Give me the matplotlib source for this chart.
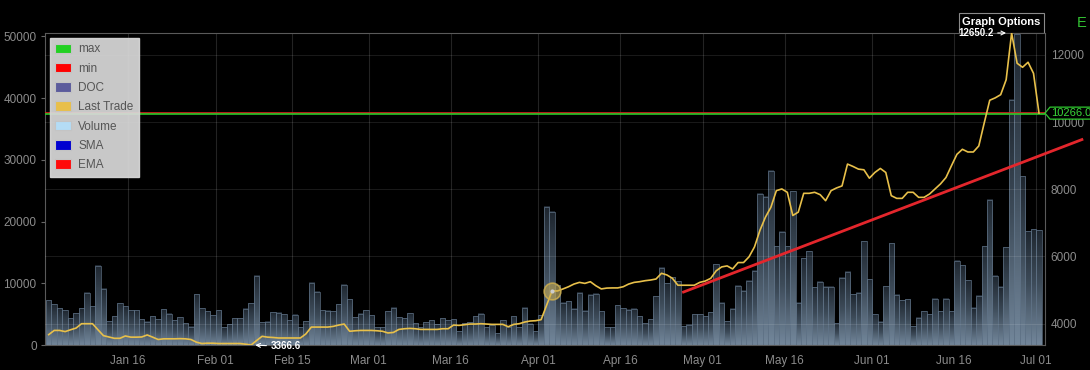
import numpy as np
import pandas as pd
import matplotlib
matplotlib.use("Agg")
import matplotlib.pyplot as plt
import matplotlib.dates as mdates
import matplotlib.transforms as mtransforms
from matplotlib.colors import LinearSegmentedColormap
from matplotlib.patches import Patch, Rectangle, Polygon

# daily data, first day below
start = "2017-01-01"

volume = [
    7260, 6610, 5920, 5650, 4300, 5110, 5920, 8500, 6290, 12860,
    9140, 3870, 4680, 6770, 6290, 5650, 5600, 4140, 3760, 4680,
    4140, 5810, 5060, 4030, 4520, 3500, 2960, 8230, 5920, 5490,
    4840, 5590, 2900, 3390, 4300, 4300, 5860, 6770, 11240, 3660,
    3760, 5270, 5220, 4950, 3980, 4900, 2900, 3820, 10110, 8660,
    5650, 5540, 5490, 6560, 9730, 7370, 4520, 5050, 5590, 4840,
    2900, 2900, 5490, 6020, 4520, 4360, 5160, 3490, 2900, 3660,
    4030, 3390, 4300, 3980, 4140, 2260, 3490, 3660, 4680, 5050,
    2900, 3170, 1940, 3980, 2900, 4630, 2900, 6020, 3440, 2260,
    4840, 22420, 21610, 9680, 6830, 7100, 5910, 8490, 5540, 8170,
    8330, 5430, 2900, 2900, 6400, 5970, 5700, 5910, 4680, 3490,
    4140, 7900, 12530, 10000, 10970, 10320, 3060, 3280, 4950, 4950,
    4680, 5320, 13070, 6880, 3870, 5860, 9620, 8820, 10430, 12040,
    24460, 23980, 28230, 16020, 18330, 16000, 24890, 6830, 14030, 15160,
    9350, 10210, 9460, 9460, 3490, 10920, 11880, 8230, 8440, 16770,
    10650, 4950, 3760, 9520, 16450, 8170, 7260, 7420, 3060, 4410,
    5480, 4950, 7530, 5480, 7530, 5480, 13660, 12900, 10480, 6020,
    8010, 15970, 23500, 11180, 9410, 15810, 39680, 50300, 27310, 18390,
    18710, 18550,
]

last_trade = [
    3675, 3800, 3800, 3765, 3820, 3870, 4000, 4000, 4000, 3820,
    3645, 3605, 3565, 3565, 3635, 3600, 3600, 3605, 3665, 3600,
    3530, 3550, 3550, 3550, 3555, 3550, 3530, 3450, 3410, 3420,
    3420, 3410, 3410, 3410, 3410, 3410, 3390, 3366.6, 3500, 3625,
    3600, 3590, 3575, 3575, 3575, 3575, 3575, 3695, 3900, 3900,
    3900, 3900, 3920, 3960, 3990, 3775, 3790, 3800, 3800, 3800,
    3790, 3775, 3725, 3740, 3830, 3850, 3860, 3850, 3830, 3830,
    3830, 3830, 3850, 3850, 3960, 3950, 3970, 3990, 3990, 4000,
    3990, 3980, 3980, 3980, 3910, 3980, 4000, 4050, 4080, 4090,
    4120, 4550, 4975, 4975, 5035, 5100, 5180, 5230, 5200, 5250,
    5130, 5035, 5060, 5065, 5065, 5100, 5180, 5230, 5250, 5280,
    5300, 5330, 5500, 5450, 5350, 5145, 5145, 5145, 5145, 5230,
    5270, 5350, 5575, 5690, 5720, 5630, 5820, 5820, 5990, 6285,
    6780, 7170, 7465, 7960, 8010, 7910, 7220, 7320, 7880, 7880,
    7910, 7840, 7660, 7960, 8040, 8100, 8750, 8680, 8600, 8580,
    8330, 8500, 8620, 8500, 7810, 7730, 7730, 7910, 7910, 7760,
    7760, 7860, 8010, 8160, 8350, 8700, 9040, 9190, 9110, 9110,
    9290, 9980, 10650, 10720, 10815, 11260, 12650.2, 11750, 11630, 11780,
    11450, 10266,
]

tick_labels = ["Jan 16", "Feb 01", "Feb 15", "Mar 01", "Mar 16", "Apr 01",
               "Apr 16", "May 01", "May 16", "Jun 01", "Jun 16", "Jul 01"]
vol_ticks = [0, 10000, 20000, 30000, 40000, 50000]
price_ticks = [4000, 6000, 8000, 10000, 12000]
level = 10266.0
hover_day = 92

# hand drawn trend line (EMA colour)
trend_dates = ["2017-04-27 07:00", "2017-07-09 14:00"]
trend_prices = [4928, 9494]

legend_names = ["max", "min", "DOC", "Last Trade", "Volume", "SMA", "EMA"]
legend_colors = ["#22d022", "#ff0000", "#5b5b9c", "#e8bf4a", "#b4dcf5", "#0000d0", "#ff0a0a"]

plt.rcParams["font.family"] = ["Liberation Sans", "DejaVu Sans"]

days = pd.date_range(start, periods=len(volume), freq="D")
x0 = mdates.date2num(days)
xc = x0 + 0.5
tick_pos = mdates.date2num(pd.to_datetime(["2017 " + t for t in tick_labels], format="%Y %b %d"))

fig = plt.figure(figsize=(10.9, 3.7), dpi=100, facecolor="black")
ax = fig.add_axes([45 / 1090, 25 / 370, 1000 / 1090, 312 / 370])
ax.set_facecolor("black")
ax2 = ax.twinx()

# volume bars with a vertical gradient, dark at the top
cmap = LinearSegmentedColormap.from_list("vol", ["#1d252e", "#3d4b59", "#72869a"])
grad = (np.linspace(0, 1, 80) ** 0.9).reshape(-1, 1)
for xl, v in zip(x0, volume):
    ax.imshow(grad, cmap=cmap, extent=[xl, xl + 1, 0, v], aspect="auto",
              origin="upper", interpolation="bilinear", zorder=1)
ax.bar(x0, volume, width=1.0, align="edge", facecolor="none",
       edgecolor="#5f7286", linewidth=0.5, zorder=2)

ax.set_xlim(x0[0] - 0.18, x0[0] + 182.6)
ax.set_ylim(0, 50530)
ax.set_yticks(vol_ticks)
ax.set_xticks(tick_pos)
ax.set_xticklabels(tick_labels)
ax.grid(axis="x", color="#232323", linewidth=0.8)
ax.set_axisbelow(True)
ax.tick_params(axis="y", colors="#666666", labelcolor="#8c8c8c", labelsize=8.5, length=3, width=0.8, pad=3)
ax.tick_params(axis="x", length=0, labelcolor="#8c8c8c", labelsize=8.5, pad=7)
for s in ax.spines.values():
    s.set_color("#5a5a5a")
    s.set_linewidth(0.8)

# price axis
ax2.set_ylim(3366.6, 12650.2)
ax2.set_yticks(price_ticks)
ax2.grid(axis="y", color="white", alpha=0.1, linewidth=0.8)
ax2.tick_params(axis="y", length=0, labelcolor="#8c8c8c", labelsize=8.5, pad=4)
for s in ax2.spines.values():
    s.set_visible(False)

ax2.axhline(level + 14, color="#d82020", linewidth=1.2)
ax2.axhline(level - 14, color="#2ac82a", linewidth=1.2)
ax2.plot(xc, last_trade, color="#e8c04a", linewidth=1.2)
ax2.plot(mdates.date2num(pd.to_datetime(trend_dates)), trend_prices,
         color="#e3262c", linewidth=2.0, clip_on=False, solid_capstyle="butt")

ax2.plot(xc[hover_day], last_trade[hover_day], "o", ms=12,
         mfc=(0.8, 0.68, 0.3, 0.55), mec=(0.8, 0.68, 0.3, 0.85), mew=1.2)
ax2.plot(xc[hover_day], last_trade[hover_day], "o", ms=3, mfc="#cccccc", mec="none")

imin = int(np.argmin(last_trade))
imax = int(np.argmax(last_trade))
ax2.annotate(f"{last_trade[imin]:.1f}", xy=(xc[imin], last_trade[imin]), xytext=(14, -1),
             textcoords="offset points", ha="left", va="center", color="white",
             fontsize=7, fontweight="bold", annotation_clip=False,
             arrowprops=dict(arrowstyle="->", color="white", lw=0.8, shrinkA=1, shrinkB=3))
ax2.annotate(f"{last_trade[imax]:.1f}", xy=(xc[imax], last_trade[imax]), xytext=(-13, 0),
             textcoords="offset points", ha="right", va="center", color="white",
             fontsize=7, fontweight="bold", annotation_clip=False, zorder=20,
             arrowprops=dict(arrowstyle="->", color="white", lw=0.8, shrinkA=1, shrinkB=4))

# legend
handles = [Patch(facecolor=c, edgecolor="#c4c4c4", linewidth=0.8) for c in legend_colors]
leg = ax2.legend(handles, legend_names, loc="upper left",
                 bbox_to_anchor=(50 / 1090, 1 - 38 / 370), bbox_transform=fig.transFigure,
                 frameon=True, fancybox=False, facecolor="#d9d9d9", edgecolor="#d9d9d9",
                 framealpha=0.93, fontsize=8.5, labelcolor="#555555", handlelength=1.35,
                 handleheight=0.85, handletextpad=0.6, labelspacing=0.62, borderpad=0.45,
                 borderaxespad=0)

# graph options button (drawn below the axes so the max label shows on top)
fig.patches.append(Rectangle((959 / 1090, 1 - 33 / 370), 85 / 1090, 20 / 370,
                             transform=fig.transFigure, facecolor="black",
                             edgecolor="#8a8a8a", linewidth=0.8, zorder=-1))
fig.text(1001.5 / 1090, 1 - 22 / 370, "Graph Options", ha="center", va="center",
         color="white", fontsize=8, fontweight="bold", zorder=11)
fig.text(1077 / 1090, 1 - 23 / 370, "E", ha="left", va="center", color="#33c433", fontsize=10.5)

# current level flag on the right axis
fig.canvas.draw()
ypx = ax2.transData.transform((0, level))[1]
xr = ax.transAxes.transform((1, 0))[0]
flag = Polygon([(xr, ypx), (xr + 5, ypx + 6), (1100, ypx + 6), (1100, ypx - 6), (xr + 5, ypx - 6)],
               closed=True, transform=mtransforms.IdentityTransform(),
               facecolor="black", edgecolor="#2ec82e", linewidth=0.9, zorder=10)
fig.patches.append(flag)
fig.text((xr + 6) / 1090, ypx / 370, f"{level:.1f}", ha="left", va="center",
         color="#3ad83a", fontsize=8, zorder=11)

fig.savefig("out.png", dpi=100, facecolor="black")
